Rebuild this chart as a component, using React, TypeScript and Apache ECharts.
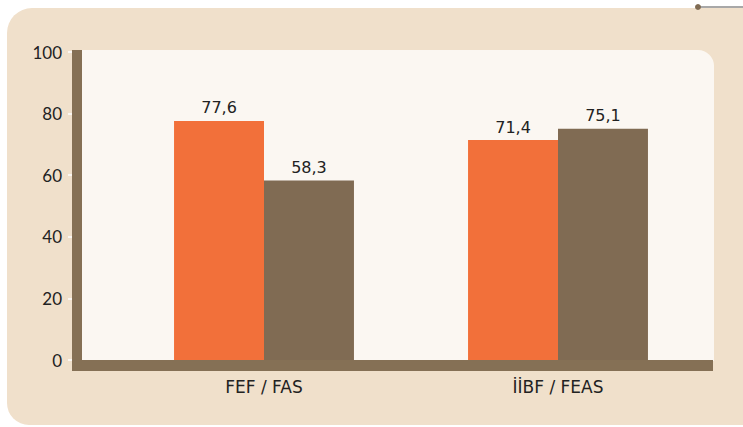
import React, { useEffect, useRef } from "react";
import * as echarts from "echarts";

const categories = ["FEF / FAS", "İİBF / FEAS"];
const seriesA = [77.6, 71.4];
const seriesB = [58.3, 75.1];
const yTicks = [0, 20, 40, 60, 80, 100];

export default function App() {
  const ref = useRef<HTMLDivElement>(null);
  useEffect(() => {
    const chart = echarts.init(ref.current!, null, { renderer: "svg" });
    const valueLabel = {
      show: true,
      position: "top",
      distance: 5,
      fontFamily: "DejaVu Sans",
      fontSize: 16,
      color: "#222",
      formatter: (p: any) => String(p.value).replace(".", ","),
    };
    chart.setOption({
      animation: false,
      grid: { left: 117, right: 38, top: 52, bottom: 67 },
      graphic: [
        {
          type: "rect",
          z: -10,
          shape: { x: 7, y: 8, width: 780, height: 417, r: [25, 0, 0, 22] },
          style: { fill: "#F0E0CB" },
        },
        {
          type: "rect",
          z: -9,
          shape: { x: 82, y: 50, width: 632, height: 311, r: [0, 16, 0, 0] },
          style: { fill: "#FBF7F2" },
        },
        {
          type: "rect",
          z: 100,
          shape: { x: 72, y: 50, width: 10, height: 321 },
          style: { fill: "#857055" },
        },
        {
          type: "rect",
          z: 100,
          shape: { x: 72, y: 360, width: 641, height: 11 },
          style: { fill: "#857055" },
        },
        {
          type: "line",
          z: 100,
          shape: { x1: 698, y1: 7, x2: 743, y2: 7 },
          style: { stroke: "#A8A8A8", lineWidth: 2 },
        },
        {
          type: "circle",
          z: 101,
          shape: { cx: 698, cy: 7, r: 3 },
          style: { fill: "#806B53" },
        },
      ],
      xAxis: {
        type: "category",
        data: categories,
        axisLine: { show: false },
        axisTick: { show: false },
        axisLabel: {
          margin: 18,
          fontFamily: "DejaVu Sans",
          fontSize: 17,
          color: "#222",
        },
      },
      yAxis: {
        type: "value",
        min: yTicks[0],
        max: yTicks[yTicks.length - 1],
        interval: 20,
        offset: 40,
        axisLine: { show: false },
        axisTick: {
          show: true,
          length: 9,
          lineStyle: { color: "#FFFFFF", width: 1.5 },
        },
        splitLine: { show: false },
        axisLabel: {
          margin: 15,
          fontFamily: "Lato",
          fontSize: 17,
          color: "#222",
        },
      },
      series: [
        {
          type: "bar",
          data: seriesA,
          barGap: "0%",
          barCategoryGap: "38.8%",
          itemStyle: { color: "#F2703A" },
          label: valueLabel,
        },
        {
          type: "bar",
          data: seriesB,
          itemStyle: { color: "#806B53" },
          label: valueLabel,
        },
      ],
    });
    return () => chart.dispose();
  }, []);
  return (
    <div
      ref={ref}
      style={{ position: "absolute", left: 0, top: 0, width: 743, height: 427 }}
    />
  );
}
